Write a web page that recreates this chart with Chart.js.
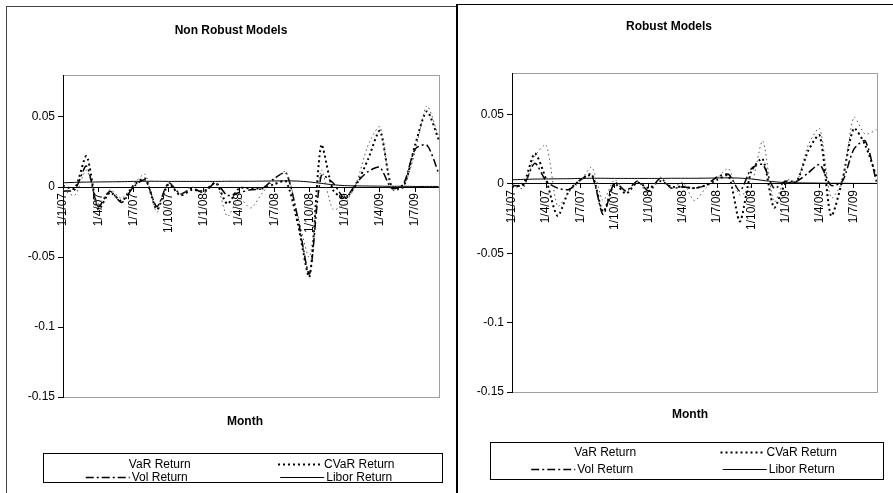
<!DOCTYPE html>
<html>
<head>
<meta charset="utf-8">
<script src="https://cdn.jsdelivr.net/npm/chart.js@4.4.1/dist/chart.umd.min.js"></script>
<style>
  html, body { margin: 0; padding: 0; background: #fff; overflow: hidden; }
  body { width: 893px; height: 493px; position: relative; }
  .panel { position: absolute; box-sizing: border-box; background: #fff; }
  #leftPanel { left: 6px; top: 6px; width: 451px; height: 520px; border: 1px solid #444; }
  #rightPanel { left: 456px; top: 4px; width: 460px; height: 520px; border: 1px solid #000; border-left-width: 2px; }
  .panel canvas { position: absolute; left: 0; top: 0; }
</style>
</head>
<body>
<div class="panel" id="leftPanel"><canvas id="nonRobustChart" width="448" height="486"></canvas></div>
<div class="panel" id="rightPanel"><canvas id="robustChart" width="435" height="488"></canvas></div>
<script>
// months, day/month/year like the original sheet
const months = [
  "1/1/07", "1/2/07", "1/3/07", "1/4/07", "1/5/07", "1/6/07", "1/7/07", "1/8/07", "1/9/07", "1/10/07", "1/11/07", "1/12/07",
  "1/1/08", "1/2/08", "1/3/08", "1/4/08", "1/5/08", "1/6/08", "1/7/08", "1/8/08", "1/9/08", "1/10/08", "1/11/08", "1/12/08",
  "1/1/09", "1/2/09", "1/3/09", "1/4/09", "1/5/09", "1/6/09", "1/7/09", "1/8/09", "1/9/09"
];
const seriesNames = ["VaR Return", "CVaR Return", "Vol Return", "Libor Return"];

// Non Robust Models
const nonRobustVaR = [-0.002, -0.006, 0.012, -0.012, -0.002, -0.008, 0.002, 0.009, -0.018, 0.003, -0.005, 0.000,
  -0.004, 0.004, -0.021, -0.008, -0.015, -0.004, 0.005, 0.011, -0.020, -0.050, 0.012, -0.016,
  -0.012, 0.003, 0.030, 0.043, -0.002, 0.000, 0.025, 0.058, 0.036];
const nonRobustCVaR = [0.001, -0.001, 0.022, -0.016, -0.004, -0.010, 0.001, 0.006, -0.016, 0.002, -0.006, -0.002,
  -0.003, 0.003, -0.012, -0.001, -0.001, -0.001, 0.002, 0.004, -0.026, -0.064, 0.030, -0.002,
  -0.008, 0.002, 0.020, 0.040, 0.000, 0.000, 0.030, 0.054, 0.034];
const nonRobustVol = [-0.003, -0.002, 0.015, -0.014, -0.003, -0.011, 0.000, 0.005, -0.014, 0.003, -0.005, -0.001,
  -0.004, 0.003, -0.006, -0.004, -0.002, -0.001, 0.006, 0.010, -0.022, -0.062, 0.008, 0.003,
  -0.008, 0.003, 0.011, 0.014, -0.001, 0.002, 0.027, 0.030, 0.010];

// Robust Models
const robustVaR = [-0.001, -0.003, 0.020, 0.028, -0.016, -0.006, 0.002, 0.012, -0.012, 0.003, -0.006, 0.002,
  -0.008, 0.005, -0.003, 0.001, -0.012, -0.003, 0.004, 0.011, -0.008, -0.001, 0.031, -0.013,
  0.003, 0.002, 0.028, 0.040, -0.010, 0.002, 0.048, 0.036, 0.039];
const robustCVaR = [-0.002, 0.000, 0.022, 0.003, -0.023, -0.005, 0.003, 0.007, -0.020, 0.000, -0.007, 0.001,
  -0.003, 0.002, -0.002, -0.002, -0.003, -0.001, 0.003, 0.006, -0.027, 0.009, 0.018, -0.017,
  0.000, 0.002, 0.024, 0.035, -0.023, 0.003, 0.040, 0.028, 0.005];
const robustVol = [-0.001, -0.001, 0.015, 0.002, -0.003, -0.004, 0.003, 0.006, -0.022, 0.001, -0.005, 0.002,
  -0.005, 0.004, -0.003, -0.002, -0.003, -0.001, 0.005, 0.007, -0.005, 0.011, 0.014, -0.003,
  0.002, 0.002, 0.008, 0.014, -0.001, 0.002, 0.025, 0.031, 0.001];

// same libor series in both panels
const liborReturn = [0.0030, 0.0033, 0.0035, 0.0036, 0.0037, 0.0038, 0.0040, 0.0041, 0.0041, 0.0040, 0.0040, 0.0040,
  0.0040, 0.0040, 0.0041, 0.0041, 0.0041, 0.0042, 0.0043, 0.0044, 0.0042, 0.0036, 0.0026, 0.0016,
  0.0010, 0.0008, 0.0007, 0.0006, 0.0005, 0.0005, 0.0004, 0.0004, 0.0004];

const yMin = -0.15, yMax = 0.08, yStep = 0.05;
const yTopLabel = 0.05;
const FONT = "'Liberation Sans', Arial, sans-serif";

Chart.defaults.font.family = FONT;
Chart.defaults.font.size = 12;
Chart.defaults.color = "#000";

// plot frame, titles and the boxed excel-style legend
const excelDecor = {
  id: "excelDecor",
  beforeDraw(chart, args, opts) {
    const { ctx, chartArea: a } = chart;
    ctx.save();
    ctx.strokeStyle = "#a0a0a0";
    ctx.lineWidth = 1;
    ctx.strokeRect(Math.round(a.left) + 0.5, Math.round(a.top) + 0.5, Math.round(a.width), Math.round(a.height));
    ctx.restore();
  },
  afterDraw(chart, args, opts) {
    const ctx = chart.ctx;
    ctx.save();
    ctx.fillStyle = "#000";
    ctx.textAlign = "center";
    ctx.textBaseline = "middle";
    ctx.font = "bold 12px " + FONT;
    ctx.fillText(opts.title, opts.titleX, opts.titleY);
    ctx.fillText("Month", opts.monthX, opts.monthY);

    const [bx, by, bw, bh] = opts.legendBox;
    ctx.strokeStyle = "#000";
    ctx.lineWidth = 1;
    ctx.setLineDash([]);
    ctx.strokeRect(bx + 0.5, by + 0.5, bw, bh);

    ctx.font = "12px " + FONT;
    ctx.textAlign = "left";
    const sampleLen = 44, gap = 2;
    chart.data.datasets.forEach((ds, i) => {
      const col = i % 2, row = Math.floor(i / 2);
      const tw = ctx.measureText(ds.label).width;
      const entryW = sampleLen + gap + tw;
      const x0 = bx + col * bw / 2 + (bw / 2 - entryW) / 2 - 6;
      const y = by + opts.legendRows[row] + 0.5;
      if (ds.legendSample !== false) {
        ctx.save();
        ctx.strokeStyle = ds.borderColor;
        ctx.lineWidth = ds.borderWidth;
        ctx.setLineDash(ds.borderDash || []);
        ctx.beginPath();
        ctx.moveTo(x0, y);
        ctx.lineTo(x0 + sampleLen, y);
        ctx.stroke();
        ctx.restore();
      }
      ctx.fillText(ds.label, x0 + sampleLen + gap, y);
    });
    ctx.restore();
  }
};

function makeChart(canvasId, varData, cvarData, volData, geo) {
  const ctx = document.getElementById(canvasId).getContext("2d");
  return new Chart(ctx, {
    type: "line",
    data: {
      labels: months,
      datasets: [
        { label: seriesNames[0], data: varData, borderColor: "#555", borderWidth: 1, borderDash: [1.5, 3], legendSample: false },
        { label: seriesNames[1], data: cvarData, borderColor: "#000", borderWidth: 2, borderDash: [2, 3] },
        { label: seriesNames[2], data: volData, borderColor: "#000", borderWidth: 1.5, borderDash: [8, 3, 2, 3] },
        { label: seriesNames[3], data: liborReturn, borderColor: "#000", borderWidth: 1, borderDash: [] }
      ]
    },
    plugins: [excelDecor],
    options: {
      responsive: false,
      animation: false,
      devicePixelRatio: 1,
      layout: { padding: geo.padding },
      elements: {
        point: { radius: 0, hoverRadius: 0 },
        line: { tension: 0.25, fill: false, borderCapStyle: "butt" }
      },
      scales: {
        x: {
          type: "category",
          position: { y: 0 },
          offset: false,
          grid: {
            drawOnChartArea: false,
            drawTicks: true,
            tickLength: 4,
            color: (c) => (c.index % 3 === 0 ? "#000" : "rgba(0,0,0,0)")
          },
          border: { display: true, color: "#000", width: 1 },
          ticks: {
            autoSkip: false,
            maxRotation: 90,
            minRotation: 90,
            padding: 2,
            font: { size: 12 },
            callback: function (val, idx) { return idx % 3 === 0 ? this.getLabelForValue(val) : ""; }
          }
        },
        y: {
          min: yMin,
          max: yMax,
          bounds: "data",
          afterFit: (scale) => { scale.width = geo.yWidth; },
          // excel shows no label at the 0.08 top of the axis
          afterBuildTicks: (scale) => { scale.ticks = scale.ticks.filter((t) => t.value <= yTopLabel + 1e-9); },
          grid: { drawOnChartArea: false, drawTicks: true, tickLength: 5, color: "#000" },
          border: { display: true, color: "#000", width: 1 },
          ticks: {
            stepSize: yStep,
            padding: 3,
            font: { size: 12 },
            callback: (v) => String(+v.toFixed(2))
          }
        }
      },
      plugins: {
        legend: { display: false },
        title: { display: false },
        tooltip: { enabled: false },
        excelDecor: geo.decor
      }
    }
  });
}

makeChart("nonRobustChart", nonRobustVaR, nonRobustCVaR, nonRobustVol, {
  padding: { top: 68, right: 8, bottom: 96, left: 0 },
  yWidth: 56,
  decor: { title: "Non Robust Models", titleX: 224, titleY: 24, monthX: 238, monthY: 415,
           legendBox: [36, 446, 399, 29], legendRows: [11, 24] }
});

makeChart("robustChart", robustVaR, robustCVaR, robustVol, {
  padding: { top: 68, right: 11, bottom: 101, left: 0 },
  yWidth: 54,
  decor: { title: "Robust Models", titleX: 211, titleY: 22, monthX: 232, monthY: 410,
           legendBox: [32, 437, 393, 37], legendRows: [10, 27] }
});
</script>
</body>
</html>
